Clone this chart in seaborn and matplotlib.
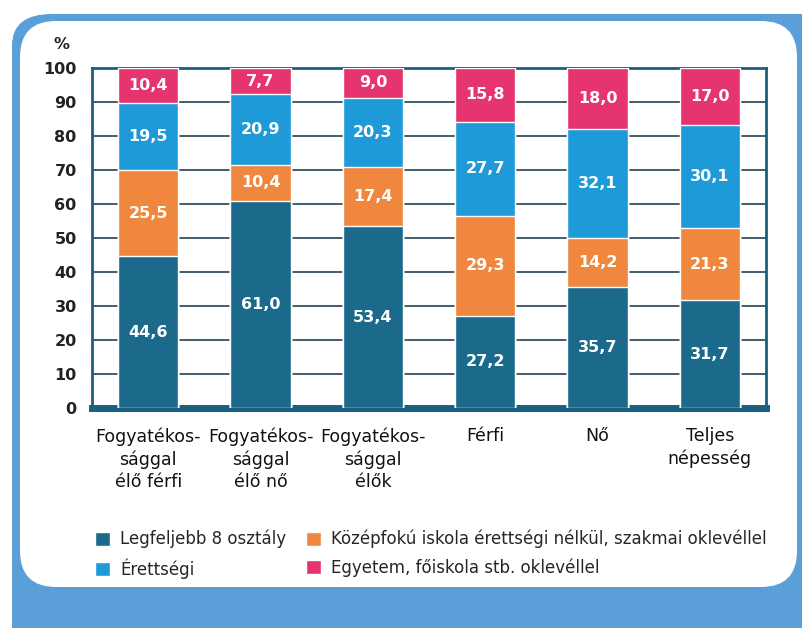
import matplotlib
matplotlib.use("Agg")
import matplotlib.pyplot as plt
from matplotlib.patches import FancyBboxPatch, Patch
import numpy as np
import pandas as pd
import seaborn as sns

# Education level shares (%) by population group
categories = [
    "Fogyatékos-\nsággal\nélő férfi",
    "Fogyatékos-\nsággal\nélő nő",
    "Fogyatékos-\nsággal\nélők",
    "Férfi",
    "Nő",
    "Teljes\nnépesség",
]
legfeljebb_8 = [44.6, 61.0, 53.4, 27.2, 35.7, 31.7]
kozepfoku = [25.5, 10.4, 17.4, 29.3, 14.2, 21.3]
erettsegi = [19.5, 20.9, 20.3, 27.7, 32.1, 30.1]
felsofoku = [10.4, 7.7, 9.0, 15.8, 18.0, 17.0]

series_names = [
    "Legfeljebb 8 osztály",
    "Középfokú iskola érettségi nélkül, szakmai oklevéllel",
    "Érettségi",
    "Egyetem, főiskola stb. oklevéllel",
]
series_values = [legfeljebb_8, kozepfoku, erettsegi, felsofoku]
colors = ["#1b6a8b", "#f0873e", "#1f9ad8", "#e6346f"]
y_ticks = list(range(0, 101, 10))

sns.set_theme(style="white")
plt.rcParams["font.family"] = ["DejaVu Sans"]

fig = plt.figure(figsize=(8.02, 6.28), dpi=100)
fig.patch.set_facecolor("white")

# Rounded blue card frame
W, H = 802, 628
frame_blue = "#5b9fd9"
outer = FancyBboxPatch((12 / W, -0.1), 1.2, 1.1 - 14 / H,
                       boxstyle="round,pad=0,rounding_size=0.05",
                       transform=fig.transFigure, facecolor=frame_blue,
                       edgecolor="none", zorder=0)
inner = FancyBboxPatch((20 / W, 1 - 587 / H), (797 - 20) / W, (587 - 21) / H,
                       boxstyle="round,pad=0,rounding_size=0.045",
                       transform=fig.transFigure, facecolor="white",
                       edgecolor="none", zorder=1,
                       mutation_aspect=W / H)
fig.patches.extend([outer, inner])

ax = fig.add_axes([92 / W, 1 - 408 / H, (766 - 92) / W, (408 - 68) / H])
ax.set_zorder(2)
ax.set_facecolor("white")

df = pd.DataFrame({"cat": categories})
cum = np.cumsum(np.array(series_values), axis=0)

# Stacked bars: draw cumulative totals from the top layer downwards
for i in range(len(series_values) - 1, -1, -1):
    df["val"] = cum[i]
    sns.barplot(data=df, x="cat", y="val", order=categories, color=colors[i],
                saturation=1, width=0.54, ax=ax, zorder=3)

# Segment value labels
for i, vals in enumerate(series_values):
    bottoms = cum[i] - np.array(vals)
    for j, v in enumerate(vals):
        ax.text(j, bottoms[j] + v / 2, f"{v:.1f}".replace(".", ","),
                ha="center", va="center", color="white", fontsize=11.5,
                fontweight="bold", zorder=5)

ax.set_xlim(-0.5, 5.5)
ax.set_ylim(0, 100)
ax.set_yticks(y_ticks)
ax.set_yticklabels([str(t) for t in y_ticks], fontsize=11.5, fontweight="bold",
                   color="#222222")
ax.yaxis.grid(True, color="#35505f", linewidth=1.3)
ax.set_axisbelow(True)
ax.tick_params(axis="y", length=0, pad=11)
ax.set_xlabel("")
ax.set_ylabel("")
ax.set_xticks(range(len(categories)))
ax.set_xticklabels(categories, fontsize=12.5, color="#111111", linespacing=1.3)
ax.tick_params(axis="x", length=0, pad=14)
ax.set_xticks(np.arange(0.5, 5.5, 1.0), minor=True)
ax.tick_params(axis="x", which="minor", length=6, width=2.5, color="#1b5f7e",
               direction="out")

spine_col = "#1b5f7e"
for side in ["left", "top", "right"]:
    ax.spines[side].set_visible(True)
    ax.spines[side].set_color(spine_col)
    ax.spines[side].set_linewidth(2)
ax.spines["bottom"].set_visible(True)
ax.spines["bottom"].set_color(spine_col)
ax.spines["bottom"].set_linewidth(5)

ax.text(-0.033, 1.07, "%", transform=ax.transAxes, ha="right", va="center",
        fontsize=11.5, fontweight="bold", color="#222222")

handles = [Patch(facecolor=colors[0], label=series_names[0]),
           Patch(facecolor=colors[2], label=series_names[2]),
           Patch(facecolor=colors[1], label=series_names[1]),
           Patch(facecolor=colors[3], label=series_names[3])]
leg = fig.legend(handles=handles, ncol=2, frameon=False, loc="upper left",
                 bbox_to_anchor=(80 / W, 1 - 515 / H), fontsize=12,
                 handlelength=0.9, handleheight=0.9, handletextpad=0.6,
                 columnspacing=1.2, labelspacing=0.6)
leg.set_zorder(3)

fig.savefig("out.png", dpi=100)
